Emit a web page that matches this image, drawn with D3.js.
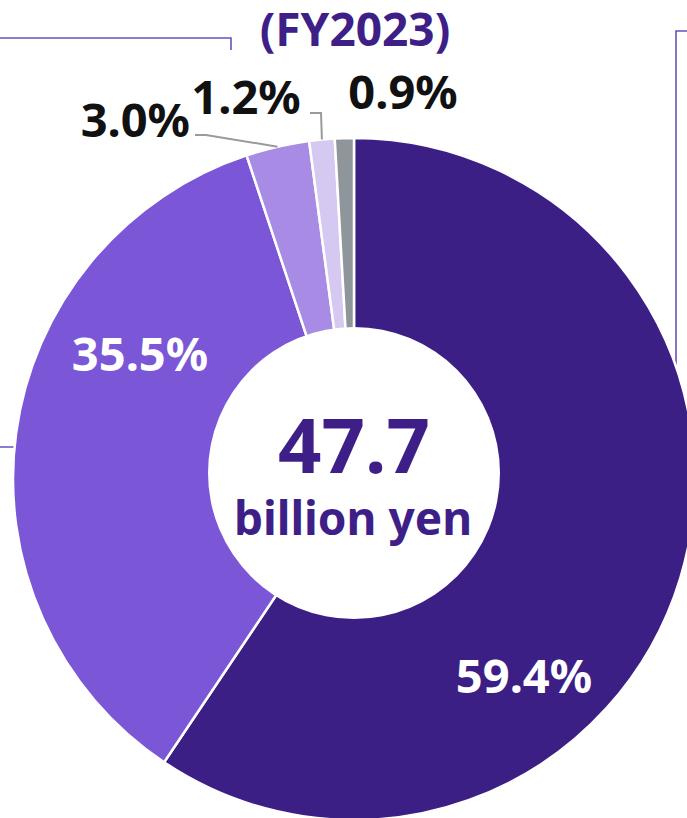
<!DOCTYPE html>
<html>
<head>
<meta charset="utf-8">
<script src="https://cdn.jsdelivr.net/npm/d3@7"></script>
<style>
  body { margin: 0; background: #fff; }
  svg { display: block; font-family: "Noto Sans", "Open Sans", sans-serif; font-weight: 700; }
</style>
</head>
<body>
<svg width="687" height="818"></svg>
<script>
// data
var shares = [59.4, 35.5, 3.0, 1.2, 0.9];
var colors = ["#3c1f85", "#7b57d7", "#a78be5", "#d5c9f1", "#8f969b"];
var title = "(FY2023)";
var total = "47.7";
var unit = "billion yen";

var svg = d3.select("svg"),
    cx = 354, cy = 479, R = 341;

// brackets behind the pie
svg.append("path")
    .attr("d", "M0,38 H231 V50 M687,31 H676 V420 M0,447 H40")
    .attr("fill", "none")
    .attr("stroke", "#6a50bd")
    .attr("stroke-width", 1.6);

svg.append("text")
    .attr("x", 355).attr("y", 46)
    .attr("text-anchor", "middle")
    .attr("font-size", 46)
    .attr("fill", "#3d1f87")
    .text(title);

var pie = d3.pie().sort(null).value(function (d) { return d; });
var arcs = pie(shares);
var arc = d3.arc().innerRadius(0).outerRadius(R);

var g = svg.append("g").attr("transform", "translate(" + cx + "," + cy + ")");
g.selectAll("path")
    .data(arcs)
    .enter()
    .append("path")
    .attr("d", arc)
    .attr("fill", function (d, i) { return colors[i]; })
    .attr("stroke", "#fff")
    .attr("stroke-width", 2.5);

// centre hole
svg.append("circle")
    .attr("cx", 354).attr("cy", 473).attr("r", 146)
    .attr("fill", "#fff");

svg.append("text")
    .attr("x", 354).attr("y", 473)
    .attr("text-anchor", "middle")
    .attr("font-size", 76)
    .attr("fill", "#3d1f87")
    .text(total);
svg.append("text")
    .attr("x", 353).attr("y", 535)
    .attr("text-anchor", "middle")
    .attr("font-size", 46)
    .attr("fill", "#3d1f87")
    .text(unit);

var fmt = function (v) { return d3.format(".1f")(v) + "%"; };

// label layout: [x, y, anchor, colour]
var labelPos = [
    [524, 693, "middle", "#fff"],
    [140, 371, "middle", "#fff"],
    [190, 137, "end", "#111"],
    [246, 114, "middle", "#111"],
    [403, 109, "middle", "#111"]
];

svg.selectAll("text.lbl")
    .data(arcs)
    .enter()
    .append("text")
    .attr("class", "lbl")
    .attr("x", function (d, i) { return labelPos[i][0]; })
    .attr("y", function (d, i) { return labelPos[i][1]; })
    .attr("text-anchor", function (d, i) { return labelPos[i][2]; })
    .attr("fill", function (d, i) { return labelPos[i][3]; })
    .attr("font-size", 47)
    .text(function (d) { return fmt(d.data); });

// leader lines for the thin slices
var outer = d3.arc().innerRadius(R).outerRadius(R);
var p3 = outer.centroid(arcs[2]), p12 = outer.centroid(arcs[3]);
svg.append("path")
    .attr("d", "M195,135 H206 L" + (cx + p3[0]) + "," + (cy + p3[1]) +
               " M310,113 H321 L" + (cx + p12[0]) + "," + (cy + p12[1]))
    .attr("fill", "none")
    .attr("stroke", "#9a9a9a")
    .attr("stroke-width", 2);
</script>
</body>
</html>
